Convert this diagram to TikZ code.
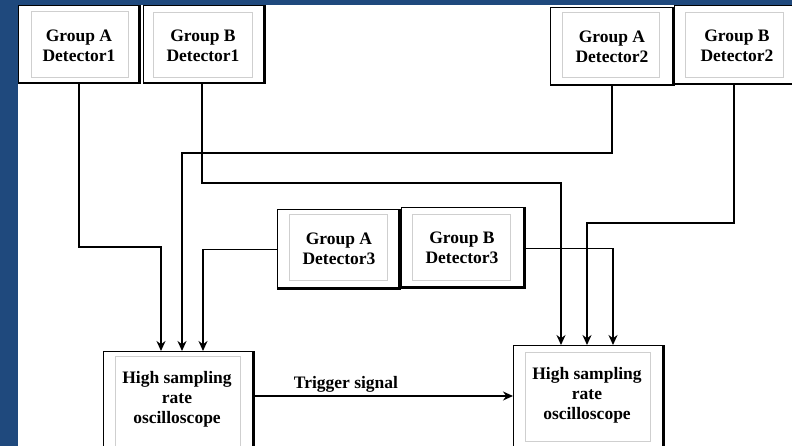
\documentclass[tikz,border=0pt]{standalone}
\usepackage{fontspec}
\setmainfont{Liberation Serif}
\usetikzlibrary{arrows.meta}
\definecolor{bgblue}{HTML}{1F497D}
\definecolor{innergray}{HTML}{CFCFCF}
\tikzset{
  outerbox/.style={draw=black, line width=1.2pt, fill=white, inner sep=0pt, anchor=north west},
  innerbox/.style={draw=innergray, line width=0.9pt, inner sep=0pt, anchor=north west},
  lbl/.style={align=center, inner sep=0pt, font=\bfseries\fontsize{17.5}{20}\selectfont},
  shadowline/.style={line width=2.6pt},
  wire/.style={line width=1.5pt},
  arr/.style={wire, -{Stealth[length=10pt,width=9pt]}}
}
\begin{document}
\begin{tikzpicture}[x=1pt,y=-1pt]
\useasboundingbox (0,0) rectangle (792,446);
\clip (0,0) rectangle (792,446);
\fill[bgblue] (0,0) rectangle (792,446);
\fill[white] (18,5) rectangle (800,460);

% Detector boxes
\node[outerbox, minimum width=120pt, minimum height=77pt] (ga1) at (18,5) {};
\node[innerbox, minimum width=97pt, minimum height=66pt] (ga1i) at (31,11) {};
\node[lbl] (ga1t) at (79,46) {Group A\\Detector1};

\node[outerbox, minimum width=120pt, minimum height=77pt] (gb1) at (143,5) {};
\node[innerbox, minimum width=99pt, minimum height=65pt] (gb1i) at (153,12) {};
\node[lbl] (gb1t) at (203,46) {Group B\\Detector1};

\node[outerbox, minimum width=122pt, minimum height=77pt] (ga2) at (550,7) {};
\node[innerbox, minimum width=97pt, minimum height=65pt] (ga2i) at (562,12) {};
\node[lbl] (ga2t) at (612,47) {Group A\\Detector2};

\node[outerbox, minimum width=124pt, minimum height=78pt] (gb2) at (674,5) {};
\node[innerbox, minimum width=98pt, minimum height=65pt] (gb2i) at (685,12) {};
\node[lbl] (gb2t) at (737,46) {Group B\\Detector2};

\node[outerbox, minimum width=121pt, minimum height=78pt] (ga3) at (277,209) {};
\node[innerbox, minimum width=98pt, minimum height=66pt] (ga3i) at (289,214) {};
\node[lbl] (ga3t) at (339,249) {Group A\\Detector3};

\node[outerbox, minimum width=122pt, minimum height=79pt] (gb3) at (401,207) {};
\node[innerbox, minimum width=98pt, minimum height=66pt] (gb3i) at (412,214) {};
\node[lbl] (gb3t) at (462,248) {Group B\\Detector3};

% Oscilloscopes
\node[outerbox, minimum width=149pt, minimum height=120pt] (oscL) at (103,351) {};
\node[innerbox, minimum width=125pt, minimum height=115pt] (oscLi) at (115,356) {};
\node[lbl] (oscLt) at (177,399) {High sampling\\rate\\oscilloscope};

\node[outerbox, minimum width=149pt, minimum height=125pt] (oscR) at (513,345) {};
\node[innerbox, minimum width=125pt, minimum height=89pt] (oscRi) at (525,352) {};
\node[lbl] (oscRt) at (587,395) {High sampling\\rate\\oscilloscope};

% shadows (thick right and bottom edges)
\foreach \n in {ga1,gb1,ga2,gb2,ga3,gb3,oscL,oscR}{
  \draw[shadowline] (\n.north east) -- (\n.south east) -- (\n.south west);
}

% Connectors
\draw[arr] ([xshift=61pt]ga1.south west) |- (161,247) -- ([xshift=58pt]oscL.north west);
\draw[arr] ([xshift=59pt]gb1.south west) |- (561,183) -- ([xshift=48pt]oscR.north west);
\draw[arr] ([xshift=62pt]ga2.south west) |- (182,153) -- ([xshift=79pt]oscL.north west);
\draw[arr] ([xshift=60pt]gb2.south west) |- (587,223) -- ([xshift=74pt]oscR.north west);
\draw[arr] ([yshift=-1pt]ga3.west) -| ([xshift=100pt]oscL.north west);
\draw[arr] ([yshift=-1.5pt]gb3.east) -| ([xshift=100pt]oscR.north west);

% Trigger
\draw[arr] ([yshift=-45pt]oscL.north east) -- ([yshift=-51pt]oscR.north west);
\node[lbl] (trig) at (346,384) {Trigger signal};
\end{tikzpicture}
\end{document}
